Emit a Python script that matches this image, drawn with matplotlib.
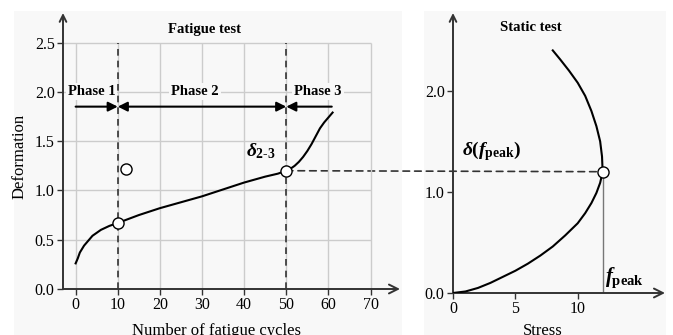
import matplotlib
matplotlib.use("Agg")
import matplotlib.pyplot as plt
from matplotlib.patches import Rectangle, ConnectionPatch

plt.rcParams['font.family'] = ['Liberation Serif', 'DejaVu Serif']
plt.rcParams['mathtext.fontset'] = 'custom'
plt.rcParams['mathtext.it'] = 'Liberation Serif:italic:bold'
plt.rcParams['mathtext.rm'] = 'Liberation Serif:bold'
plt.rcParams['mathtext.bf'] = 'Liberation Serif:bold'

# fatigue test: deformation vs number of cycles
cycles = [0, 0.5, 1, 2, 3, 4, 5, 6, 7, 8, 9, 10, 15, 20, 25, 30, 35, 40, 45, 48,
          50, 51, 52, 53, 54, 55, 56, 57, 58, 59, 60, 61]
deform = [0.26, 0.31, 0.37, 0.44, 0.49, 0.54, 0.57, 0.60, 0.62, 0.64, 0.655, 0.67,
          0.75, 0.82, 0.88, 0.94, 1.01, 1.08, 1.14, 1.17,
          1.20, 1.22, 1.25, 1.29, 1.34, 1.40, 1.47, 1.55, 1.63, 1.69, 1.74, 1.79]
phase_bounds = [10, 50]
marked_cycles = [10, 50, 11.9]
marked_deform = [0.67, 1.20, 1.22]

# static test: deformation vs stress
stress = [0, 1, 2, 3, 4, 5, 6, 7, 8, 9, 10, 10.6, 11.1, 11.5, 11.8, 12.0,
          11.95, 11.8, 11.5, 11.1, 10.6, 10.0, 9.3, 8.6, 8.0]
static_deform = [0, 0.015, 0.05, 0.10, 0.16, 0.22, 0.29, 0.37, 0.46, 0.57, 0.69,
                 0.79, 0.89, 0.99, 1.09, 1.20,
                 1.35, 1.50, 1.65, 1.80, 1.95, 2.08, 2.20, 2.31, 2.40]
f_peak = 12.0
delta_peak = 1.2

W, H = 673, 335
fig = plt.figure(figsize=(W / 100, H / 100), dpi=100)
fig.patch.set_facecolor('white')

# light panel backgrounds
bg = '#f8f8f8'
fig.add_artist(Rectangle((14 / W, 0), (402 - 14) / W, 1 - 11 / H,
                         transform=fig.transFigure, facecolor=bg, edgecolor='none', zorder=-10))
fig.add_artist(Rectangle((424 / W, 0), (666 - 424) / W, 1 - 11 / H,
                         transform=fig.transFigure, facecolor=bg, edgecolor='none', zorder=-10))

ax1 = fig.add_axes([63 / W, 1 - 289 / H, (400 - 63) / W, (289 - 13) / H])
ax2 = fig.add_axes([453 / W, 1 - 293 / H, (665 - 453) / W, (293 - 13) / H])
ax1.set_zorder(2)

axis_col = '#333333'
for ax in (ax1, ax2):
    ax.set_facecolor('none')
    for s in ax.spines.values():
        s.set_visible(False)
    ax.tick_params(direction='out', length=4, width=1, color=axis_col,
                   labelsize=11.5, pad=2)
    ax.annotate('', xy=(1, 0), xytext=(0, 0), xycoords='axes fraction',
                arrowprops=dict(arrowstyle='->', color=axis_col, lw=1.4,
                                mutation_scale=16, shrinkA=0, shrinkB=0))
    ax.annotate('', xy=(0, 1), xytext=(0, 0), xycoords='axes fraction',
                arrowprops=dict(arrowstyle='->', color=axis_col, lw=1.4,
                                mutation_scale=12, shrinkA=0, shrinkB=0))

# ---- left: fatigue test ----
ax1.set_xlim(-3, 77)
ax1.set_ylim(0, 2.8)
xt = list(range(0, 71, 10))
yt = [0.0, 0.5, 1.0, 1.5, 2.0, 2.5]
ax1.set_xticks(xt)
ax1.set_yticks(yt)
ax1.set_yticklabels([f'{v:.1f}' for v in yt])
ax1.vlines(xt, 0, 2.5, color='#cccccc', lw=1, zorder=0)
ax1.hlines(yt[1:], -3, 70, color='#cccccc', lw=1, zorder=0)

ax1.vlines(phase_bounds, 0, 2.5, color=axis_col, lw=1.2, linestyles=(0, (4, 3)), zorder=2)
ax1.plot(cycles, deform, color='black', lw=1.5, zorder=3)
ax1.plot(marked_cycles, marked_deform, 'o', ms=8, mfc='white', mec='black', mew=1, zorder=5)

arrow_y = 1.85
ap = dict(color='black', lw=1.5, mutation_scale=14, shrinkA=0, shrinkB=0)
ax1.annotate('', xy=(10, arrow_y), xytext=(0, arrow_y), arrowprops=dict(arrowstyle='-|>', **ap))
ax1.annotate('', xy=(50, arrow_y), xytext=(10, arrow_y), arrowprops=dict(arrowstyle='<|-|>', **ap))
ax1.annotate('', xy=(50, arrow_y), xytext=(60.8, arrow_y), arrowprops=dict(arrowstyle='-|>', **ap))
for x, t in [(3.8, 'Phase 1'), (28.3, 'Phase 2'), (57.5, 'Phase 3')]:
    ax1.text(x, 2.0, t, ha='center', va='center', fontsize=10.5, fontweight='bold',
             bbox=dict(facecolor=bg, edgecolor='none', pad=1.5), zorder=4)

ax1.text(30.6, 2.63, 'Fatigue test', ha='center', va='center', fontsize=10.5, fontweight='bold')
ax1.text(47.5, 1.3, r'$\delta_{\text{2-3}}$', ha='right', va='bottom', fontsize=14)

# ---- right: static test ----
ax2.set_xlim(0, 17)
ax2.set_ylim(0, 2.77)
ax2.set_xticks([0, 5, 10])
ax2.set_yticks([0.0, 1.0, 2.0])
ax2.set_yticklabels(['0.0', '1.0', '2.0'])
ax2.vlines(f_peak, 0, delta_peak, color='#777777', lw=1, zorder=2)
ax2.plot(stress, static_deform, color='black', lw=1.5, zorder=3)
ax2.plot([f_peak], [delta_peak], 'o', ms=8, mfc='white', mec='black', mew=1, zorder=5)
ax2.text(6.2, 2.63, 'Static test', ha='center', va='center', fontsize=10.5, fontweight='bold')
ax2.text(0.7, 1.29, r'$\delta(f_{\mathrm{peak}})$', ha='left', va='bottom', fontsize=14)
ax2.text(f_peak + 0.2, 0.03, r'$f_{\mathrm{peak}}$', ha='left', va='bottom', fontsize=15)

con = ConnectionPatch(xyA=(50, 1.2), coordsA=ax1.transData,
                      xyB=(f_peak, delta_peak), coordsB=ax2.transData,
                      color=axis_col, lw=1.2, linestyle=(0, (4, 3)), zorder=1)
ax2.add_artist(con)

fig.text(20 / W, 1 - 156 / H, 'Deformation', rotation=90, ha='center', va='center', fontsize=12)
fig.text(217 / W, 1 - 323 / H, 'Number of fatigue cycles', ha='center', va='top', fontsize=12)
fig.text(543 / W, 1 - 323 / H, 'Stress', ha='center', va='top', fontsize=12)

fig.savefig('out.png', dpi=100)
